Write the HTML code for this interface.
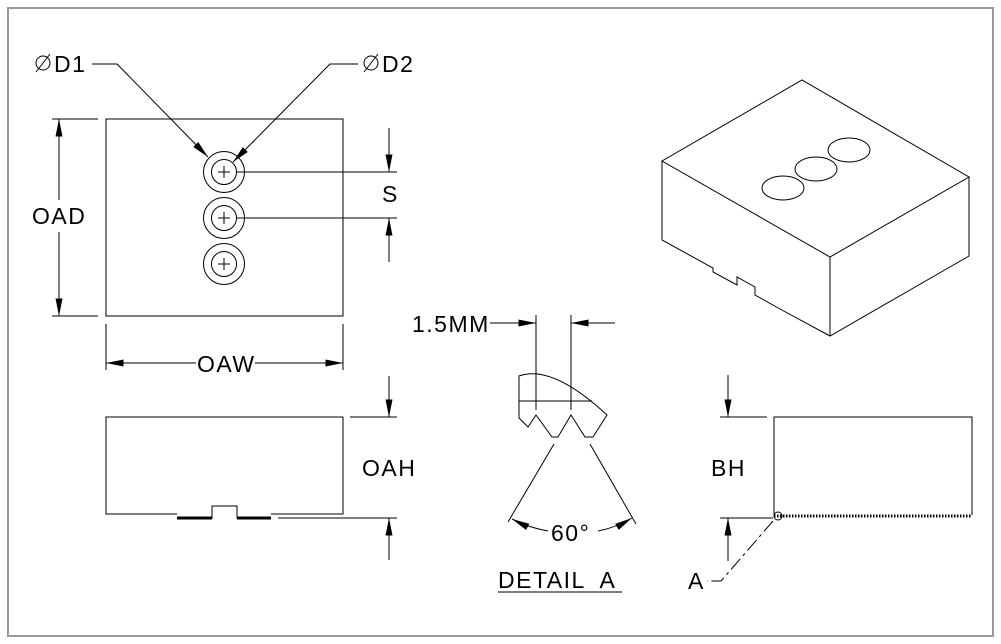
<!DOCTYPE html>
<html><head><meta charset="utf-8"><style>
html,body{margin:0;padding:0;background:#fff}
svg{display:block}
text{font-family:"Liberation Sans",sans-serif;font-size:23px;fill:#000;letter-spacing:1.5px;white-space:pre}
</style></head><body>
<svg width="1001" height="644" viewBox="0 0 1001 644" xmlns="http://www.w3.org/2000/svg">
<defs>
<marker id="ar" viewBox="0 0 20 8" refX="20" refY="4" markerWidth="20" markerHeight="7" markerUnits="userSpaceOnUse" orient="auto"><path d="M0,0L20,4L0,8z" fill="#000"/></marker>
</defs>
<rect x="8" y="8" width="985" height="628" fill="none" stroke="#999" stroke-width="2"/>
<g stroke="#000" stroke-width="1" fill="none">
<rect x="106" y="119" width="237" height="197"/>
<line x1="52" y1="119" x2="98" y2="119"/><line x1="52" y1="316" x2="98" y2="316"/>
<line x1="59" y1="200" x2="59" y2="119" marker-end="url(#ar)"/>
<line x1="59" y1="232" x2="59" y2="316" marker-end="url(#ar)"/>
<circle cx="224" cy="172" r="20.5"/><circle cx="224" cy="172" r="12.5"/>
<circle cx="224" cy="218" r="20.5"/><circle cx="224" cy="218" r="12.5"/>
<circle cx="224" cy="264" r="20.5"/><circle cx="224" cy="264" r="12.5"/>
<path d="M218,172h12M224,166v12M218,218h12M224,212v12M218,264h12M224,258v12"/>
<line x1="237" y1="172" x2="397" y2="172"/><line x1="237" y1="218" x2="397" y2="218"/>
<line x1="389" y1="128" x2="389" y2="172" marker-end="url(#ar)"/>
<line x1="389" y1="262" x2="389" y2="218" marker-end="url(#ar)"/>
<polyline points="92,64 117,64 208,157" marker-end="url(#ar)"/>
<polyline points="358,64 330,64 233,162" marker-end="url(#ar)"/>
<circle cx="43" cy="63" r="7"/><line x1="36" y1="72" x2="50" y2="54"/>
<circle cx="371" cy="63" r="7"/><line x1="364" y1="72" x2="378" y2="54"/>
<line x1="106" y1="324" x2="106" y2="370"/><line x1="343" y1="324" x2="343" y2="370"/>
<line x1="196" y1="363" x2="106" y2="363" marker-end="url(#ar)"/>
<line x1="255" y1="363" x2="343" y2="363" marker-end="url(#ar)"/>
<polyline points="177,514 106,514 106,417 343,417 343,514 271,514"/>
<polyline points="177,518 212,518 212,506 237,506 237,518 271,518"/>
<path d="M177,518h35M237,518h34" stroke-width="3"/>
<line x1="350" y1="417" x2="397" y2="417"/><line x1="278" y1="518" x2="397" y2="518"/>
<line x1="389" y1="376" x2="389" y2="417" marker-end="url(#ar)"/>
<line x1="389" y1="560" x2="389" y2="518" marker-end="url(#ar)"/>
<line x1="490" y1="323" x2="536" y2="323" marker-end="url(#ar)"/>
<line x1="615" y1="323" x2="571" y2="323" marker-end="url(#ar)"/>
<line x1="536" y1="315" x2="536" y2="410"/><line x1="571" y1="315" x2="571" y2="410"/>
<path d="M519,376 Q552,364 607,415 L593,437 L585,437 L571,415 L558,437 L552,437 L536,415 L528,427 L519,418 Z"/>
<line x1="519" y1="401" x2="592" y2="401"/>
<line x1="554" y1="444" x2="508" y2="522"/><line x1="590" y1="444" x2="636" y2="524"/>
<path d="M548,531 Q530,528 512,519" marker-end="url(#ar)"/>
<path d="M598,531 Q615,528 632,518" marker-end="url(#ar)"/>
<line x1="498" y1="592" x2="622" y2="592"/>
<polygon points="662,161 802,80 969,177 830,257"/>
<line x1="830" y1="257" x2="830" y2="336"/>
<polyline points="662,161 662,240 713,268 713,272 737,285 737,277 755,287 755,295 780,309 830,336 969,256 969,177"/>
<ellipse cx="783" cy="188" rx="21" ry="12"/>
<ellipse cx="816" cy="169" rx="21" ry="12"/>
<ellipse cx="849" cy="150" rx="21" ry="12"/>
<polyline points="774,515 774,417 972,417 972,515"/>
<line x1="774" y1="516" x2="972" y2="516" stroke-width="3" stroke-dasharray="1.5,1.5"/>
<line x1="720" y1="417" x2="767" y2="417"/><line x1="720" y1="518" x2="773" y2="518"/>
<line x1="728" y1="375" x2="728" y2="417" marker-end="url(#ar)"/>
<line x1="728" y1="561" x2="728" y2="518" marker-end="url(#ar)"/>
<circle cx="778" cy="516" r="4"/>
<polyline points="773,521 721,581 707,581" stroke-dasharray="14,4,3,4"/>
</g>
<g>
<text x="54" y="72">D1</text>
<text x="382" y="72">D2</text>
<text x="32" y="224">OAD</text>
<text x="382" y="202">S</text>
<text x="197" y="372">OAW</text>
<text x="362" y="476">OAH</text>
<text x="412" y="332">1.5MM</text>
<text x="551" y="541">60°</text>
<text x="498" y="588">DETAIL  A</text>
<text x="711" y="476">BH</text>
<text x="688" y="589">A</text>
</g>
</svg>
</body></html>
